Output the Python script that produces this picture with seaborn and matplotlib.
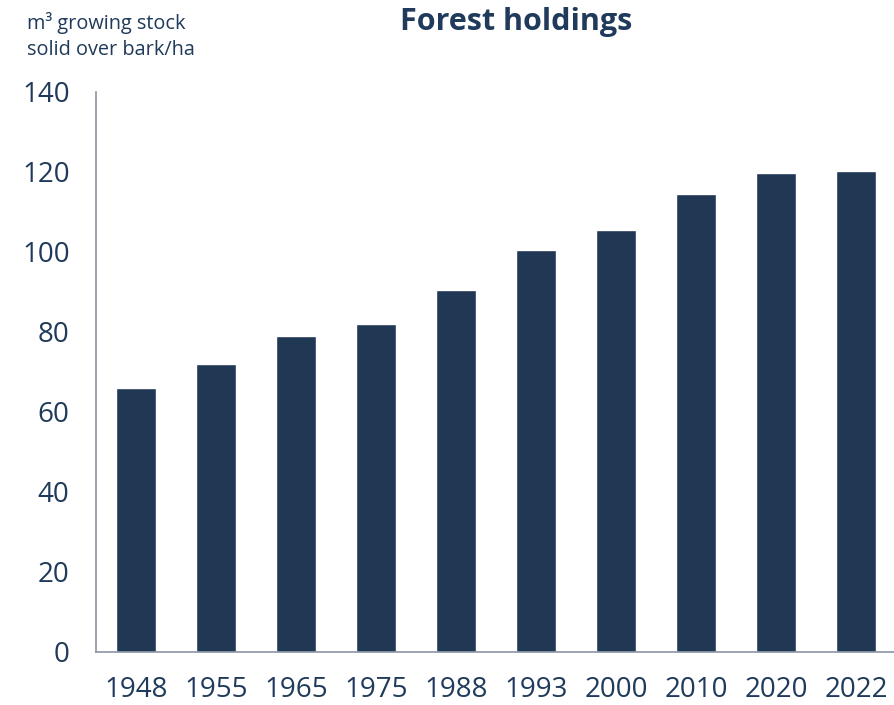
import matplotlib
matplotlib.use('Agg')
import matplotlib.pyplot as plt
import seaborn as sns
import pandas as pd

years = ['1948', '1955', '1965', '1975', '1988', '1993', '2000', '2010', '2020', '2022']
stock = [66, 72, 79, 82, 90.4, 100.5, 105.4, 114.5, 119.8, 120.3]

navy = '#203854'
text_col = '#1f3a5a'
spine_col = '#8a96a6'

sns.set_style('white')
plt.rcParams['font.family'] = ['Open Sans', 'DejaVu Sans']

df = pd.DataFrame({'year': years, 'stock': stock})

fig = plt.figure(figsize=(8.95, 7.05), dpi=100)
ax = fig.add_axes([96 / 895, 53 / 705, 800 / 895, 560 / 705])

sns.barplot(data=df, x='year', y='stock', color=navy, saturation=1, width=0.5, ax=ax)

ax.set_ylim(0, 140)
ax.set_yticks(range(0, 141, 20))
ax.set_xlim(-0.5, len(years) - 0.5)
ax.set_xlabel('')
ax.set_ylabel('')
ax.tick_params(axis='y', length=0, pad=19, labelsize=20, labelcolor=text_col)
ax.tick_params(axis='x', length=0, pad=17, labelsize=20, labelcolor=text_col)

for side in ['top', 'right']:
    ax.spines[side].set_visible(False)
for side in ['left', 'bottom']:
    ax.spines[side].set_color(spine_col)
    ax.spines[side].set_linewidth(1.2)

fig.text(516 / 895, 1 - 22 / 705, 'Forest holdings', ha='center', va='center',
         fontsize=22, fontweight='bold', color=text_col)
fig.text(27 / 895, 1 - 36 / 705, 'm³ growing stock\nsolid over bark/ha', ha='left', va='center',
         fontsize=14.3, color=text_col, linespacing=1.45)

fig.savefig('out.png', dpi=100)
